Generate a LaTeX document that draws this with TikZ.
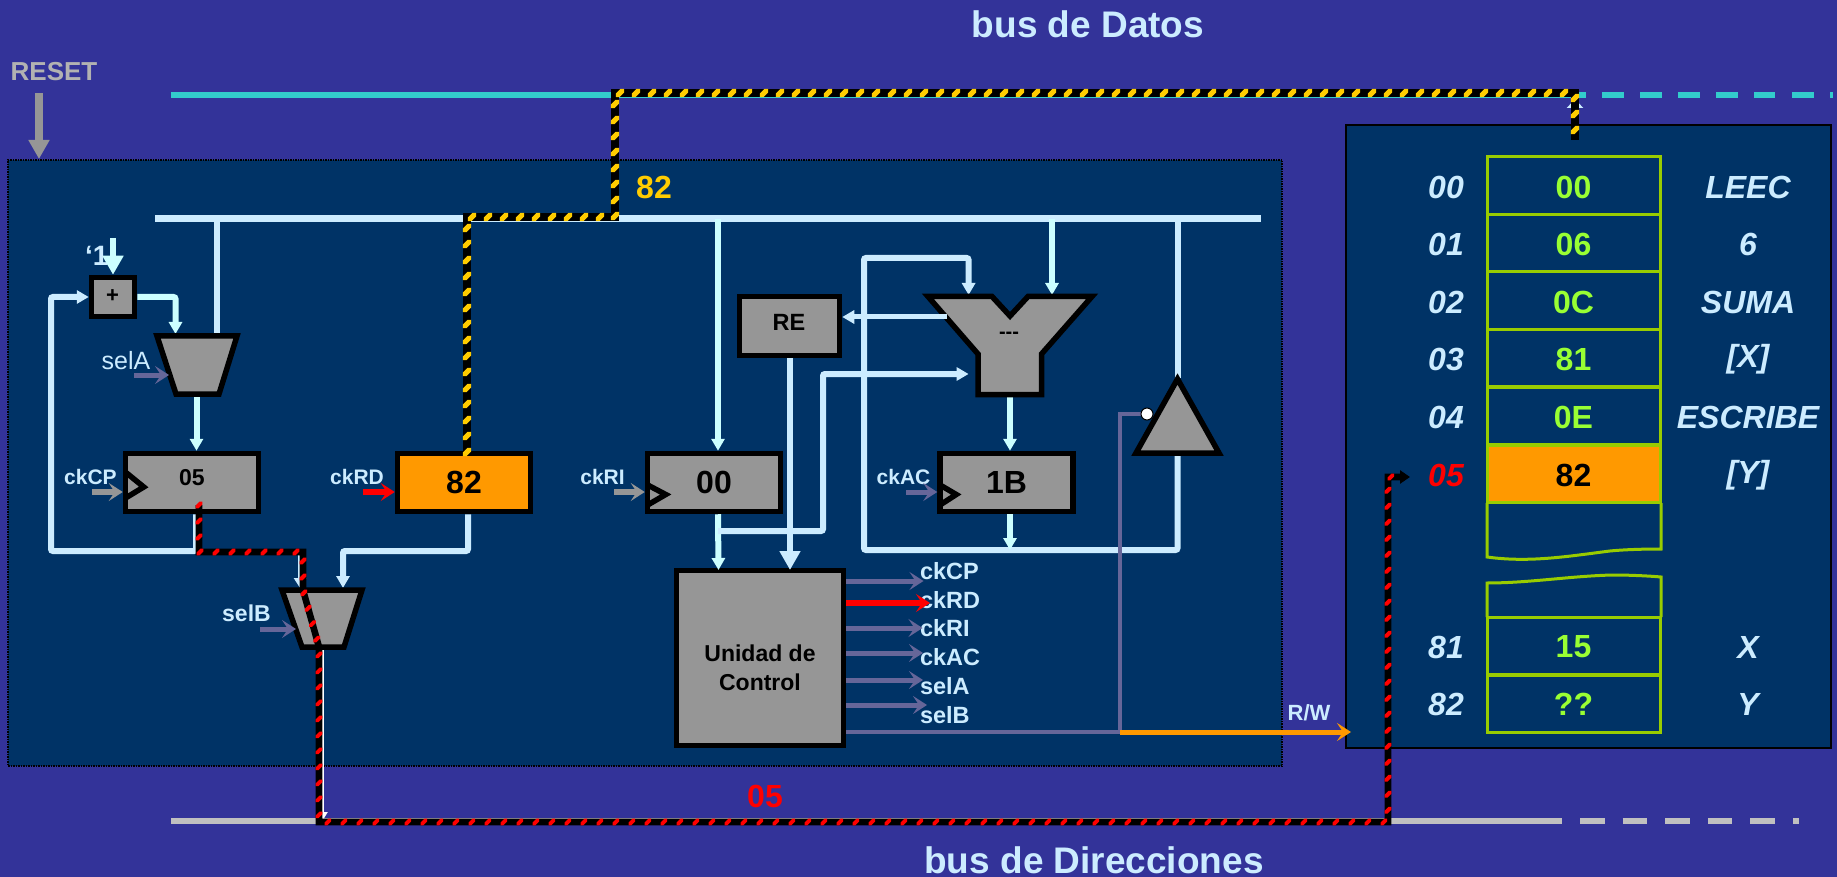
\documentclass[tikz,border=0pt]{standalone}
\usepackage{fontspec}
\setmainfont{Liberation Sans}
\usetikzlibrary{arrows.meta,decorations.markings,calc}
\definecolor{bgc}{HTML}{333399}
\definecolor{pnl}{HTML}{003366}
\definecolor{lbl}{HTML}{CCECFF}
\definecolor{lar}{HTML}{CCFFFF}
\definecolor{gr}{HTML}{969696}
\definecolor{lgr}{HTML}{B2B2B2}
\definecolor{agr}{HTML}{C0C0C0}
\definecolor{pur}{HTML}{666699}
\definecolor{org}{HTML}{FF9900}
\definecolor{yhaz}{HTML}{FFCC00}
\definecolor{cyn}{HTML}{33CCCC}
\definecolor{cellg}{HTML}{99CC00}
\definecolor{valg}{HTML}{99FF33}
\newcommand{\fs}[1]{\fontsize{#1}{#1}\selectfont}
\newcommand{\slashmark}[3]{\pgftransformresetnontranslations\fill[fill=#1] (-#2pt,-#2pt) -- ++(#3pt,0pt) -- (#2pt,#2pt-#3pt) -- (#2pt,#2pt) -- ++(-#3pt,0pt) -- (-#2pt,-#2pt+#3pt) -- cycle;}
\tikzset{
 x=1pt,y=-1pt,
 txt/.style={inner sep=0pt,outer sep=0pt,align=center},
 t21/.style={txt,text=lbl,font=\fs{21}\bfseries},
 t23/.style={txt,text=lbl,font=\fs{23.5}\bfseries,anchor=west},
 t32/.style={txt,font=\fs{32}\bfseries},
 title/.style={txt,text=lbl,font=\fs{37}\bfseries},
 boxn/.style={draw=black,fill=gr,line width=5.5pt,inner sep=0pt,minimum width=133pt,minimum height=58pt,font=\fs{32}\bfseries,text=black},
 shp/.style={draw=black,fill=gr,line width=5.5pt,line join=miter},
 clk/.style={draw=black,line width=5.5pt,line join=miter},
 wire/.style={draw=lbl,line width=6pt,rounded corners=2pt,line cap=butt},
 wirethin/.style={draw=lbl,line width=3pt},
 arrs/.style={wire,-{Triangle[length=12pt,width=13pt]}},
 arrb/.style={draw=lar,line width=6pt,-{Triangle[length=19pt,width=20pt]}},
 arrl/.style={draw=lar,line width=6pt,rounded corners=2pt,-{Triangle[length=12pt,width=13pt]}},
 ctl/.style={line width=5pt,-{Stealth[length=14pt,width=18pt,inset=6pt]}},
 hazbase/.style={draw=black,line width=#1,line join=miter},
 hazyl/.style={hazbase=8.4pt,postaction={decorate,decoration={markings,mark=between positions 0 and 1 step 16pt with {\slashmark{yhaz}{4.2}{3.6}}}}},
 hazrd/.style={hazbase=6.6pt,postaction={decorate,decoration={markings,mark=between positions 0 and -12pt step 16pt with {\slashmark{red}{3.3}{2.8}}}}},
 cell/.style={draw=cellg,line width=3pt,minimum width=173.7pt,minimum height=57.6pt,inner sep=0pt},
 cellln/.style={draw=cellg,line width=3pt,line join=miter}
}
\begin{document}
\begin{tikzpicture}
\useasboundingbox (0,0) rectangle (1837,877);
\fill[bgc] (0,0) rectangle (1837,877);
% panels
\node[draw=black,densely dotted,line width=1.5pt,fill=pnl,minimum width=1274pt,minimum height=606pt,inner sep=0pt] (cpu) at (645,463) {};
\node[draw=black,line width=2.5pt,fill=pnl,minimum width=485pt,minimum height=623pt,inner sep=0pt] (mem) at (1588.5,436.5) {};
% titles
\node[title] (tD) at (1088,24) {bus de Datos};
\node[title] (tA) at (1094,860) {bus de Direcciones};
\node[txt,text=lgr,font=\fs{26}\bfseries] (rst) at (54,72) {RESET};
\coordinate (rstA) at (39,93); \coordinate (rstB) at (39,159);
\draw[draw=gr,line width=7.5pt,-{Triangle[length=19pt,width=20pt]}] (rstA) -- (rstB);
% external buses
\coordinate (dbL) at (171,95); \coordinate (dbR) at (1580,95); \coordinate (dbE) at (1833,95);
\draw[cyn,line width=5.5pt] (dbL) -- (dbR);
\draw[cyn,line width=5.5pt,dash pattern=on 6pt off 16pt on 22pt off 16pt on 22pt off 16pt on 22pt off 16pt on 22pt off 16pt on 21pt off 17pt on 22pt off 16pt on 22pt off 15pt on 3pt off 100pt] (dbR) -- (dbE);
\coordinate (abL) at (171,820.5); \coordinate (abR) at (1562,820.5); \coordinate (abE) at (1800,820.5);
\draw[agr,line width=6pt] (abL) -- (abR);
\draw[agr,line width=6pt,dash pattern=on 0pt off 18pt on 24.6pt off 18pt on 24.6pt off 18pt on 24.6pt off 18pt on 24.6pt off 18pt on 24.6pt off 18pt on 6.4pt off 100pt] (abR) -- (abE);
% internal bus
\coordinate (ibL) at (155,219); \coordinate (ibR) at (1261,219);
\draw[lbl,line width=7pt] (ibL) -- (ibR);
% nodes: registers etc.
\node[boxn] (adder) at (113,297) [minimum width=43pt,minimum height=39pt] {};
\node[txt,font=\fs{22}\bfseries] (plus) at (112.5,296.5) {+};
\node[txt,text=lbl,font=\fs{28}\bfseries,anchor=west] (one) at (85,256) {‘1’};
\coordinate (oneT) at (113,238);
\draw[arrb] (oneT) -- (adder.north);
\node[boxn] (rcp) at (192,482.5) {};
\node[boxn,fill=org] (rrd) at (464,482.5) {82};
\node[boxn] (rri) at (714,482.5) {00};
\node[boxn] (rac) at (1006.5,482.5) {1B};
\node[boxn,minimum width=100pt,minimum height=59pt,font=\fs{23.5}\bfseries] (re) at (789.5,326) {};
\node[txt,font=\fs{23.5}\bfseries] (retx) at (789,322) {RE};
\node[boxn,minimum width=167pt,minimum height=175pt] (uc) at (760,658) {};
\node[txt,font=\fs{23}\bfseries,align=center] (uct) at (760,667.5) {Unidad de\\[6pt]Control};
% wires under shapes
\coordinate (jfb) at (196,551); \coordinate (jfbL) at (51,551); \coordinate (adIn) at (51,297);
\coordinate (mA1) at (175.5,334); \coordinate (mA2) at (217,335);
\draw[arrs] (rcp.south -| jfb) -- (jfb) -- (jfbL) -- (adIn) -- (adder.west);
\draw[arrl] (adder.east) -- (mA1 |- adder.east) -- (mA1);
\draw[wire,line width=5.5pt] (ibL -| mA2) -- (mA2);
\coordinate (mAo) at (196.5,397);
\draw[arrl] (mAo) -- (mAo |- rcp.north);
\coordinate (jb1) at (300,551); \coordinate (mB1) at (300,588);
\coordinate (mB2) at (343,588); \coordinate (jb2) at (343,551); \coordinate (rdo) at (468,551);
\draw[wirethin,line width=4pt,-{Triangle[length=10pt,width=12pt]}] (jfb) -- (jb1) -- (mB1);
\draw[arrs] (rdo |- rrd.south) -- (rdo) -- (jb2) -- (mB2);
\coordinate (mBo) at (323,650); \coordinate (mBe) at (323,820);
\draw[wirethin,draw=white,line width=2.5pt,-{Triangle[length=8pt,width=9pt]}] (mBo) -- (mBe);
% datapath right
\coordinate (br1) at (718,219); \coordinate (brj) at (718,531);\coordinate (brk) at (823,531);\coordinate (brl) at (823,374);\coordinate (brm) at (968.6,374);
\coordinate (ucA) at (718.5,570); \coordinate (ucB) at (790,570);
\draw[arrl] (br1) -- (br1 |- rri.north);
\draw[arrl] (br1 |- rri.south) -- (ucA);
\draw[arrs] (brj) -- (brk) -- (brl) -- (brm);
\draw[arrb,draw=lbl] (re.south -| ucB) -- (ucB);
\coordinate (lpTop) at (968.6,258);\coordinate (lpTL) at (864,258);\coordinate (lpBL) at (864,550);\coordinate (lpBR) at (1177.5,550);
\coordinate (aluA) at (968.6,295); \coordinate (aluB) at (1052,295); \coordinate (aluO) at (1010,397);
\coordinate (triB) at (1177.5,453); \coordinate (triT) at (1177.5,378);
\draw[arrs] (lpBR |- triB) -- (lpBR) -- (lpBL) -- (lpTL) -- (lpTop) -- (aluA);
\draw[arrl] (ibL -| aluB) -- (aluB);
\draw[wire] (ibL -| triT) -- (triT);
\draw[arrl] (aluO) -- (aluO |- rac.north);
\coordinate (acJ) at (1010,550);
\draw[arrl] (aluO |- rac.south) -- (acJ);
% shapes
\draw[shp] (157,336) coordinate (mAtl) -- (237,336) -- (219,394) -- (176,394) -- cycle;
\draw[shp] (282,590) coordinate (mBtl) -- (362,590) -- (344,647) -- (302,647) -- cycle;
\draw[shp] (928,296.5) coordinate (aluTL) -- (992,296.5) -- (1010,316) -- (1028,296.5) -- (1092,296.5) -- (1041.5,354) -- (1041.5,394.5) -- (978,394.5) -- (978,354) -- cycle;
\node[txt,font=\fs{20}\bfseries] (alut) at (1009,335) {-{}-{}-};
\draw[shp] (1177.5,379) coordinate (triA) -- (1136,453) -- (1219,453) -- cycle;
\coordinate (reIn) at (947,317);
\draw[wire,draw=lbl,line width=5pt,-{Triangle[length=12pt,width=13pt]}] (reIn) -- (reIn -| re.east);
% text in regs
\node[txt,font=\fs{23}\bfseries] (t05) at (192,478) {05};
% clock chevrons
\draw[clk] ([shift={(2,-11)}]rcp.west) -- ([shift={(21,4.5)}]rcp.west) -- ([shift={(2,16)}]rcp.west);
\draw[clk] ([shift={(2,2)}]rri.west) -- ([shift={(21,12)}]rri.west) -- ([shift={(2,23)}]rri.west);
\draw[clk] ([shift={(2,2)}]rac.west) -- ([shift={(19,12)}]rac.west) -- ([shift={(2,23)}]rac.west);
% labels near regs
\node[t21] (lcp) at (90.5,477) {ckCP};
\node[t21] (lrd) at (357,477) {ckRD};
\node[t21] (lri) at (602.5,477) {ckRI};
\node[t21] (lac) at (903.5,477) {ckAC};
\node[txt,text=lbl,font=\fs{25}] (lsa) at (126,361) {selA};
\node[txt,text=lbl,font=\fs{23}\bfseries] (lsb) at (246.5,613) {selB};
% control inputs
\coordinate (csa) at (134,375); \coordinate (csb) at (260,629); \coordinate (ccp) at (92,492); \coordinate (crd) at (363,492); \coordinate (cri) at (614,492); \coordinate (cac) at (906,492);
\draw[ctl,draw=pur] (csa) -- (169,375);
\draw[ctl,draw=pur] (csb) -- (296,629);
\draw[ctl,draw=gr,line width=6pt] (ccp) -- (ccp -| rcp.west);
\draw[ctl,draw=red,line width=6pt] (crd) -- (crd -| rrd.west);
\draw[ctl,draw=gr,line width=6pt] (cri) -- (cri -| rri.west);
\draw[ctl,draw=pur] (cac) -- (cac -| rac.west);
% control outputs
\node[t23] (ocp) at (920,571) {ckCP};
\node[t23] (ord) at (920,600) {ckRD};
\node[t23] (ori) at (920,628) {ckRI};
\node[t23] (oac) at (920,657) {ckAC};
\node[t23] (osa) at (920,686) {selA};
\node[t23] (osb) at (920,715) {selB};
\coordinate (ua) at (846,581); \coordinate (ub) at (846,603); \coordinate (uc3) at (846,628); \coordinate (ud) at (846,653); \coordinate (ue) at (846,680); \coordinate (uf) at (846,705);
\draw[ctl,draw=pur] (ua) -- (923.5,581);
\draw[ctl,draw=red,line width=6.5pt] (ub) -- (930,603);
\draw[ctl,draw=pur] (uc3) -- (922.5,628);
\draw[ctl,draw=pur] (ud) -- (923,653);
\draw[ctl,draw=pur] (ue) -- (923,680);
\draw[ctl,draw=pur] (uf) -- (927,705);
\coordinate (ug) at (846,732); \coordinate (rwJ) at (1120,732); \coordinate (rwE) at (1351,732); \coordinate (enT) at (1120,414); \coordinate (enC) at (1141,414);
\draw[pur,line width=4pt] (ug) -- (rwJ) -- (enT) -- (enC);
\draw[org,line width=5pt,-{Stealth[length=14pt,width=18pt,inset=6pt]}] (rwJ) -- (rwE);
\node[txt,text=lbl,font=\fs{22}\bfseries] (rw) at (1309,713) {R/W};
\node[circle,draw=black,line width=1pt,fill=white,minimum size=12pt,inner sep=0pt] (inv) at (1147,414) {};
% memory table
\foreach \n/\yy in {0/185.3,1/243,2/300.5,3/358,4/416}{
  \node[cell] (c\n) at (1574,\yy) {};
}
\node[cell,fill=org] (c5) at (1574,474) {};
\draw[cellln] (c5.south west) ++(1.5,-1.5) -- (1487,557) .. controls (1530,563) and (1570,556) .. (1610,551) .. controls (1625,549.5) and (1645,549) .. (1661,549) -- (1661,503);
\draw[cellln] (1487,617) -- (1487,583) .. controls (1530,583) and (1570,576) .. (1613,575) .. controls (1630,575) and (1650,576) .. (1661,577) -- (1661,617);
\node[cell] (c81) at (1574,646) {};
\node[cell] (c82) at (1574,703.8) {};
\foreach \n/\yy/\ad/\va/\la in {0/187/00/00/LEEC,1/244/01/06/6,2/302/02/0C/SUMA,3/359/03/81/{[X]},4/417/04/0E/ESCRIBE,81/647/81/15/X,82/704/82/??/Y}{
  \node[t32,text=lbl,font=\fs{32}\bfseries\itshape] (ad\n) at (1446,\yy) {\ad};
  \node[t32,text=valg] (va\n) at (1573.5,\yy) {\va};
  \node[t32,text=lbl,font=\fs{32}\bfseries\itshape] (la\n) at (1748,\yy) {\la};
}
\node[t32,text=red,font=\fs{32}\bfseries\itshape] (ad5) at (1446,475) {05};
\node[t32,text=black] (va5) at (1573.5,475) {82};
\node[t32,text=lbl,font=\fs{32}\bfseries\itshape] (la5) at (1748,475) {[Y]};
% values on transfers
\node[t32,text=yhaz] (v82) at (654,187) {82};
\node[t32,text=red] (v05) at (765,796) {05};
% memory data port
\coordinate (mdT) at (1575,99); \coordinate (mdB) at (1575,140);
\draw[draw=lbl,line width=5pt,-{Triangle[length=9pt,width=16pt]}] (mdB) -- (mdT);
% highlighted transfers
\coordinate (h1) at (467,452);\coordinate (h2) at (467,217);\coordinate (h3) at (615,217);\coordinate (h4) at (615,93);\coordinate (h5) at (1575,93);
\draw[hazyl] (h1) -- (h2) -- (h3) -- (h4) -- (h5) -- (mdB);
\coordinate (r1) at (199,505);\coordinate (r2) at (199,552);\coordinate (r3) at (303,552);\coordinate (r4) at (303,590);\coordinate (r5) at (319,647);\coordinate (r6) at (319,822);\coordinate (r7) at (1388,822);\coordinate (r8) at (1388,477);\coordinate (r9) at (1410,477);
\draw[hazrd,-{Triangle[length=10pt,width=13pt]}] (r1) -- (r2) -- (r3) -- (r4) -- (r5) -- (r6) -- (r7) -- (r8) -- (r9);
\end{tikzpicture}
\end{document}
